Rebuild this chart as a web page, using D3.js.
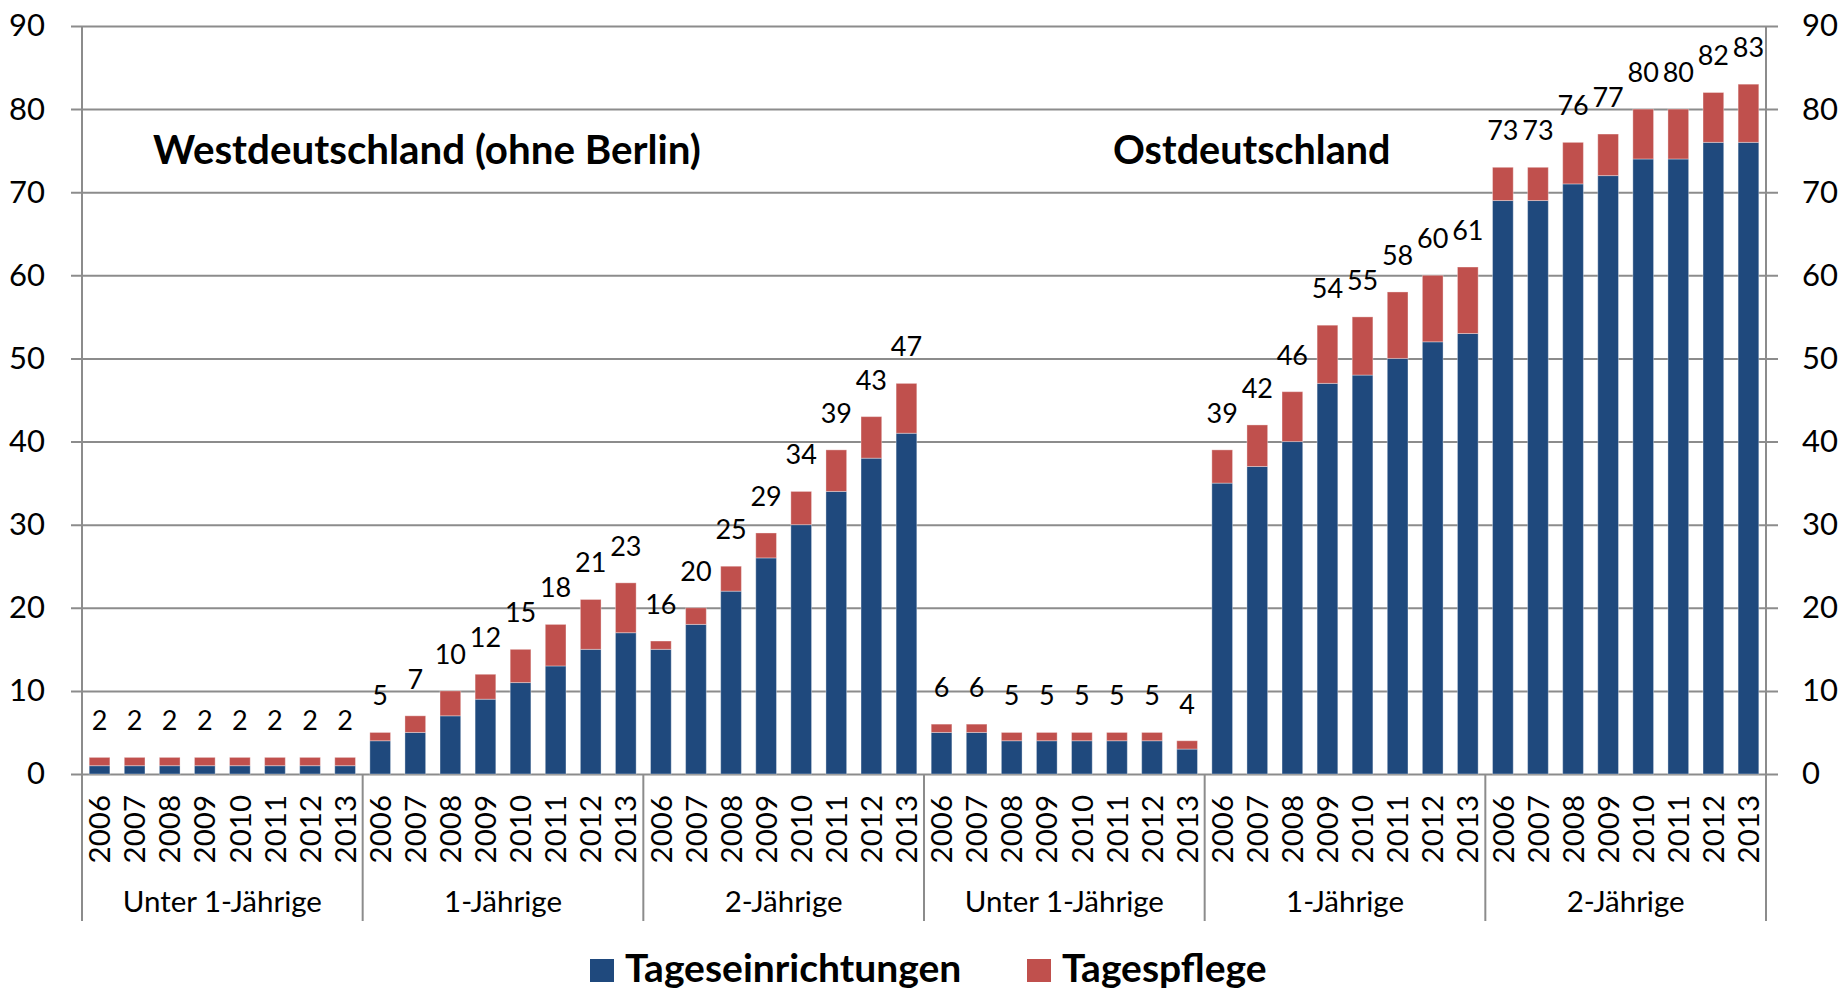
<!DOCTYPE html>
<html><head><meta charset="utf-8">
<script src="https://cdn.jsdelivr.net/npm/d3@7"></script>
<style>
html,body{margin:0;padding:0;background:#fff;}
svg{display:block;font-family:Lato,"Open Sans",sans-serif;}
</style></head>
<body>
<svg id="chart" width="1843" height="992"></svg>
<script>
const regions = ["Westdeutschland (ohne Berlin)", "Ostdeutschland"];
const ageGroups = ["Unter 1-Jährige", "1-Jährige", "2-Jährige"];
const years = [2006, 2007, 2008, 2009, 2010, 2011, 2012, 2013];
const seriesNames = ["Tageseinrichtungen", "Tagespflege"];
const seriesColors = ["#1F497D", "#C0504D"];
const yTicks = [0, 10, 20, 30, 40, 50, 60, 70, 80, 90];

// West: Unter 1, 1-J, 2-J ; East: Unter 1, 1-J, 2-J
const tageseinrichtungen = [
  1, 1, 1, 1, 1, 1, 1, 1,
  4, 5, 7, 9, 11, 13, 15, 17,
  15, 18, 22, 26, 30, 34, 38, 41,
  5, 5, 4, 4, 4, 4, 4, 3,
  35, 37, 40, 47, 48, 50, 52, 53,
  69, 69, 71, 72, 74, 74, 76, 76
];
const tagespflege = [
  1, 1, 1, 1, 1, 1, 1, 1,
  1, 2, 3, 3, 4, 5, 6, 6,
  1, 2, 3, 3, 4, 5, 5, 6,
  1, 1, 1, 1, 1, 1, 1, 1,
  4, 5, 6, 7, 7, 8, 8, 8,
  4, 4, 5, 5, 6, 6, 6, 7
];
const totals = [
  2, 2, 2, 2, 2, 2, 2, 2,
  5, 7, 10, 12, 15, 18, 21, 23,
  16, 20, 25, 29, 34, 39, 43, 47,
  6, 6, 5, 5, 5, 5, 5, 4,
  39, 42, 46, 54, 55, 58, 60, 61,
  73, 73, 76, 77, 80, 80, 82, 83
];

const rows = [];
regions.forEach((r, ri) => ageGroups.forEach((a, ai) => years.forEach((yr, yi) => {
  const i = rows.length;
  rows.push({key: ri + "|" + ai + "|" + yr, region: ri, group: ai, year: yr,
             Tageseinrichtungen: tageseinrichtungen[i], Tagespflege: tagespflege[i], total: totals[i]});
})));

const svg = d3.select("#chart");
const plotL = 82, plotR = 1766, plotT = 26, plotB = 774, axisBottomEnd = 921;
const gridL = 71, gridR = 1778;

const x = d3.scaleBand().domain(rows.map(d => d.key)).range([plotL, plotR]).paddingInner(0.41).paddingOuter(0.205);
const y = d3.scaleLinear().domain([0, 90]).range([plotB, plotT]);
const step = x.step();

const gridColor = "#8c8c8c";

// gridlines
const gGrid = svg.append("g").attr("transform", `translate(${gridL},0)`)
  .call(d3.axisRight(y).tickValues(yTicks).tickSize(gridR - gridL).tickFormat(""));
gGrid.select(".domain").remove();
gGrid.selectAll("line").attr("stroke", gridColor).attr("stroke-width", 2);

// y tick labels left & right
const gL = svg.append("g").attr("transform", `translate(${plotL},0)`)
  .call(d3.axisLeft(y).tickValues(yTicks).tickSize(0).tickPadding(37));
const gR = svg.append("g").attr("transform", `translate(${plotR},0)`)
  .call(d3.axisRight(y).tickValues(yTicks).tickSize(0).tickPadding(36));
[gL, gR].forEach(g => {
  g.select(".domain").remove();
  g.selectAll("text").attr("font-family", "Lato").attr("font-size", 31).attr("fill", "#000");
});

// vertical axis lines
svg.append("g").selectAll("line").data([plotL, plotR]).join("line")
  .attr("x1", d => d).attr("x2", d => d).attr("y1", plotT).attr("y2", axisBottomEnd)
  .attr("stroke", gridColor).attr("stroke-width", 2);

// group separators
const groupKeys = [];
regions.forEach((r, ri) => ageGroups.forEach((a, ai) => groupKeys.push({ri, ai, label: a})));
const groupBounds = groupKeys.map(g => {
  const ks = rows.filter(d => d.region === g.ri && d.group === g.ai).map(d => d.key);
  return {label: g.label, x0: x(ks[0]) - (step - x.bandwidth()) / 2,
          x1: x(ks[ks.length - 1]) + x.bandwidth() + (step - x.bandwidth()) / 2};
});
svg.append("g").selectAll("line").data(groupBounds.slice(1)).join("line")
  .attr("x1", d => d.x0).attr("x2", d => d.x0).attr("y1", plotB).attr("y2", axisBottomEnd)
  .attr("stroke", gridColor).attr("stroke-width", 2);

// stacked bars
const stack = d3.stack().keys(seriesNames)(rows);
svg.append("g").selectAll("g").data(stack).join("g")
  .attr("fill", (d, i) => seriesColors[i])
  .selectAll("rect").data(d => d).join("rect")
  .attr("x", d => x(d.data.key)).attr("width", x.bandwidth())
  .attr("y", d => y(d[1])).attr("height", d => y(d[0]) - y(d[1]))
  .attr("stroke", "rgba(255,255,255,0.35)").attr("stroke-width", 1);

// total labels
svg.append("g").selectAll("text").data(rows).join("text")
  .attr("x", d => x(d.key) + x.bandwidth() / 2).attr("y", d => y(d.total) - 27)
  .attr("text-anchor", "middle").attr("font-size", 27).attr("fill", "#000")
  .text(d => d.total);

// year labels
const gX = svg.append("g").attr("transform", `translate(0,${plotB})`)
  .call(d3.axisBottom(x).tickSize(0).tickFormat(k => k.split("|")[2]));
gX.select(".domain").remove();
gX.selectAll("text").attr("transform", "rotate(-90)").attr("x", -21).attr("y", 0)
  .attr("dy", "0.36em").style("text-anchor", "end")
  .attr("font-family", "Lato").attr("font-size", 29.5).attr("fill", "#000");

// group labels
svg.append("g").selectAll("text").data(groupBounds).join("text")
  .attr("x", d => (d.x0 + d.x1) / 2).attr("y", 912)
  .attr("text-anchor", "middle").attr("font-size", 29.5).attr("fill", "#000")
  .text(d => d.label);

// yellow divider
const divX = groupBounds[3].x0;
const defs = svg.append("defs");
const f = defs.append("filter").attr("id", "sh").attr("x", "-2").attr("y", "-0.1").attr("width", "5").attr("height", "1.2");
f.append("feDropShadow").attr("dx", 1.5).attr("dy", 1.5).attr("stdDeviation", 1.5).attr("flood-color", "#000").attr("flood-opacity", 0.35);
svg.append("line").attr("x1", divX).attr("x2", divX).attr("y1", plotT).attr("y2", 933)
  .attr("stroke", "#FFC000").attr("stroke-width", 6).attr("filter", "url(#sh)");

// region titles
svg.append("text").attr("x", 153).attr("y", 164).attr("font-weight", "bold").attr("font-size", 40.3)
  .attr("fill", "#000").text(regions[0]);
svg.append("text").attr("x", 1113).attr("y", 164).attr("font-weight", "bold").attr("font-size", 39.5)
  .attr("fill", "#000").text(regions[1]);

// legend
const legX = [590, 1027];
const leg = svg.append("g").selectAll("g").data(seriesNames).join("g")
  .attr("transform", (d, i) => `translate(${legX[i]},959)`);
leg.append("rect").attr("width", 24).attr("height", 23).attr("fill", (d, i) => seriesColors[i]);
leg.append("text").attr("x", 35).attr("y", 23).attr("font-weight", "bold").attr("font-size", 39)
  .attr("fill", "#000").text(d => d);
</script>
</body></html>
